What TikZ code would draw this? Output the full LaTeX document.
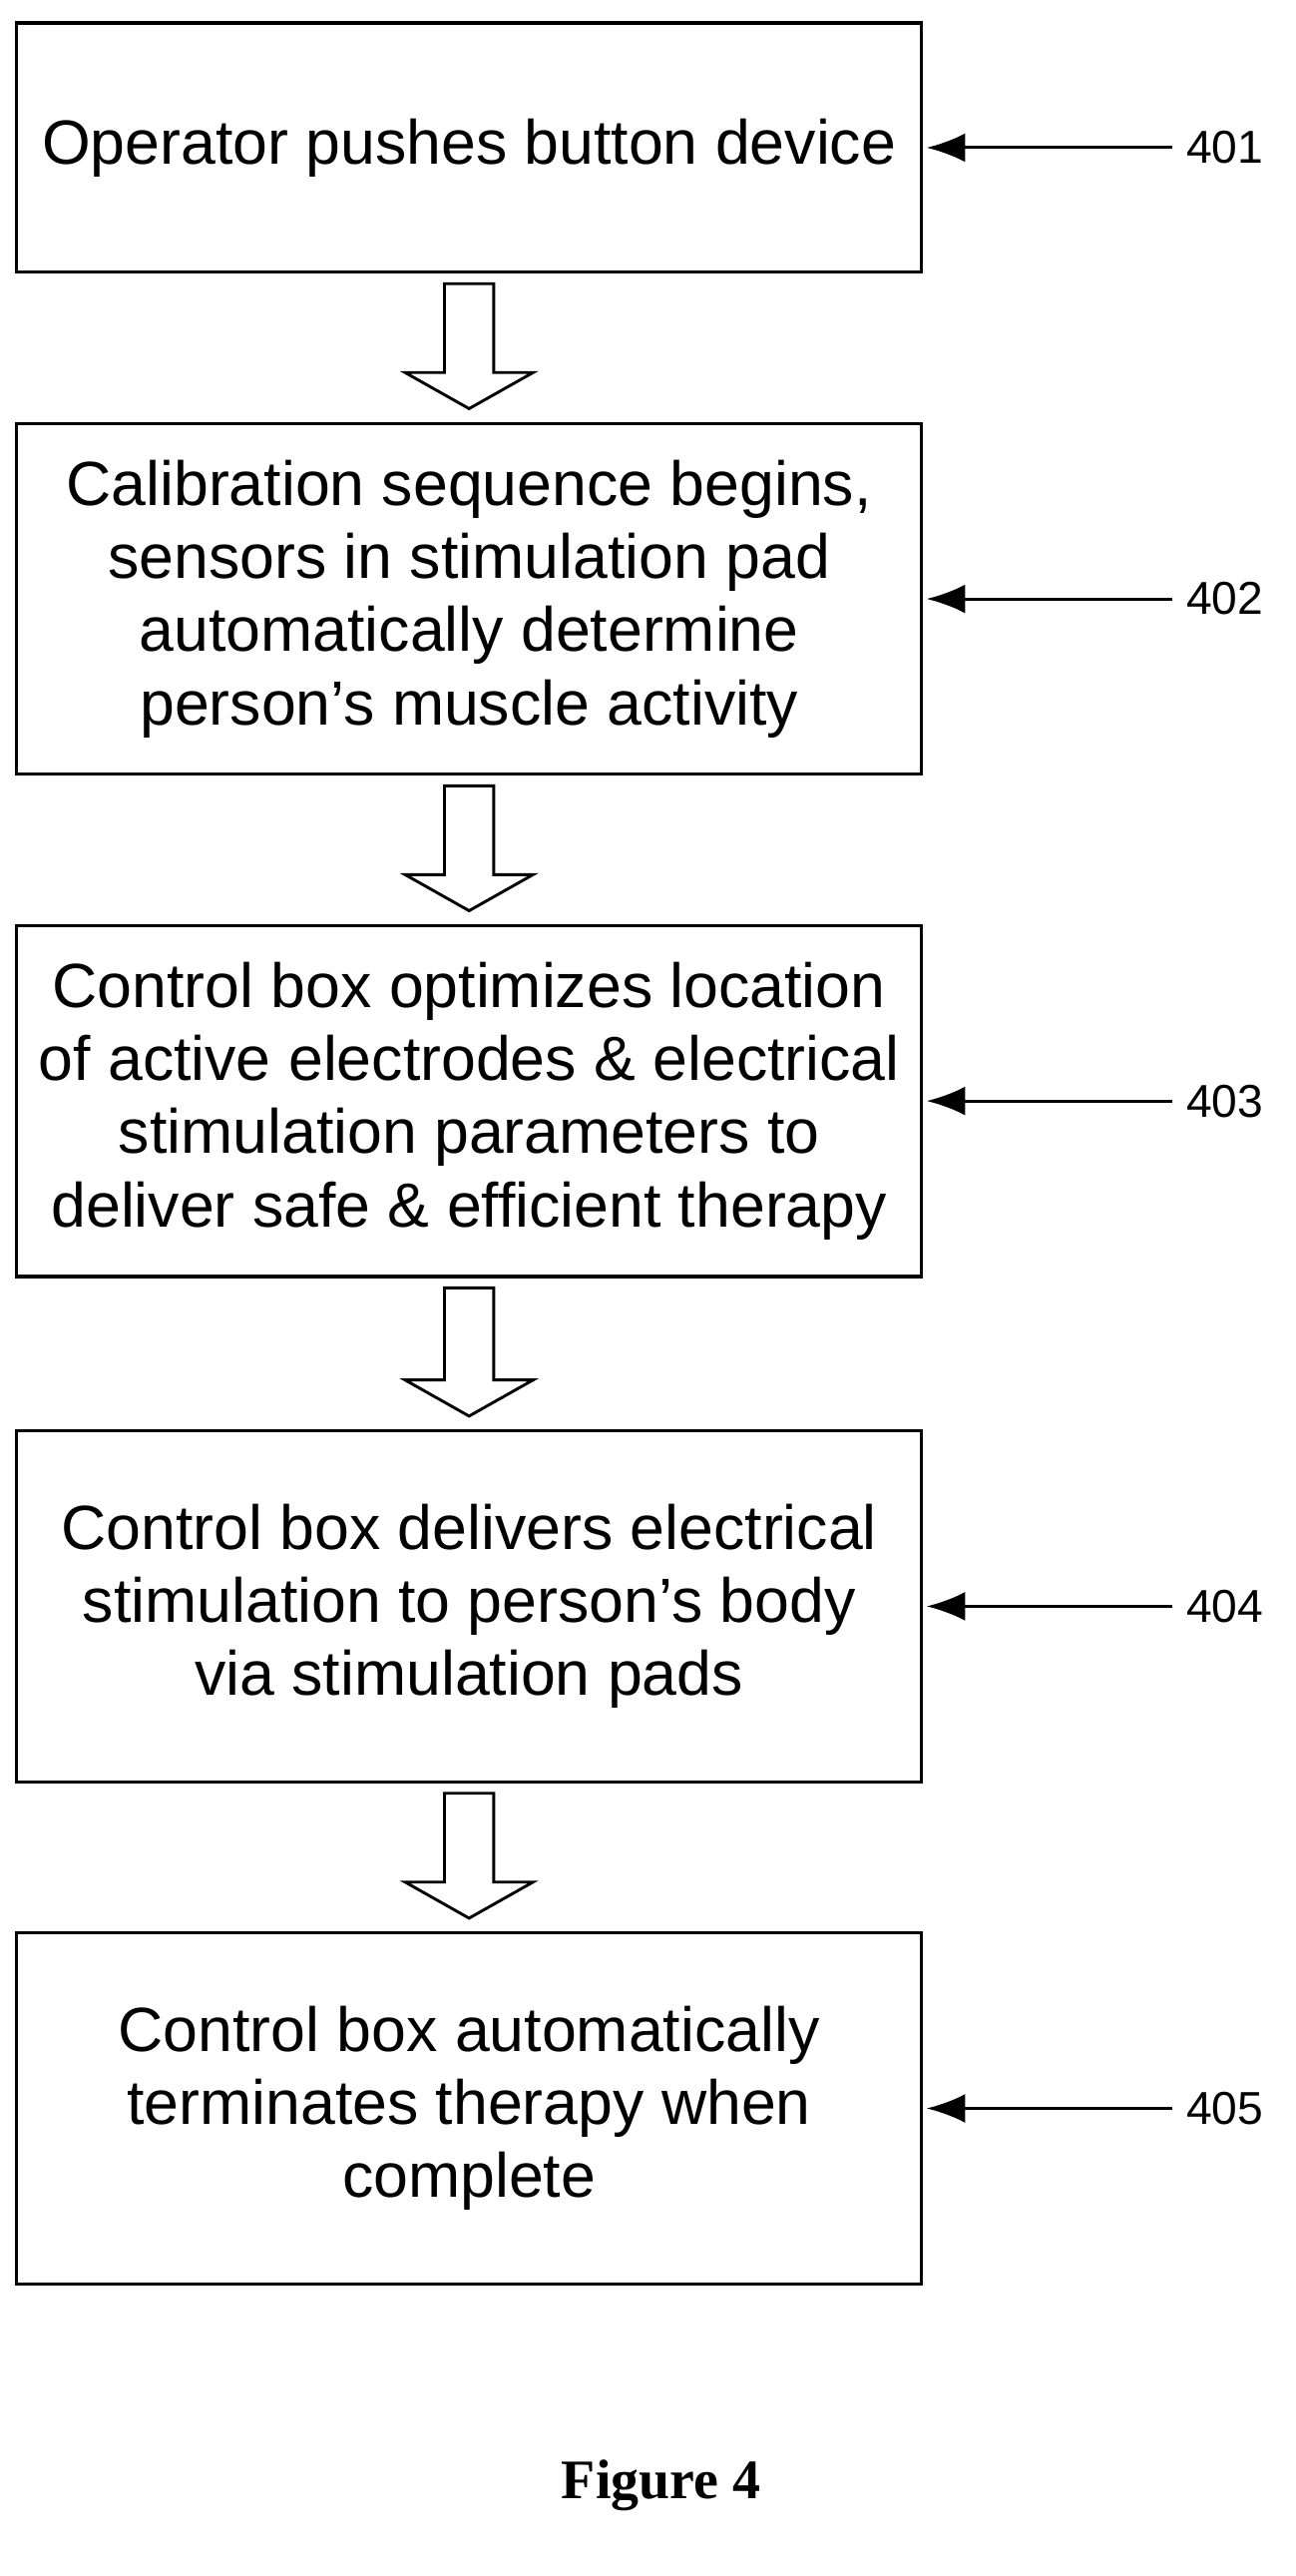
\documentclass[tikz,border=0pt]{standalone}
\usepackage{fontspec}
\setmainfont{Liberation Sans}
\newfontfamily\capfont{Liberation Serif}
\usetikzlibrary{calc,arrows.meta}
\begin{document}
\begin{tikzpicture}[x=0.03cm,y=-0.03cm,>=latex,thick,
    step box/.style={draw,line width=1.6pt,minimum width=552*0.03cm,align=center,
      font=\fontsize{32.5}{38}\selectfont},
    ref label/.style={font=\fontsize{24}{28}\selectfont,anchor=west}]
  \useasboundingbox (0,0) rectangle (790,1570);
  \node[step box,minimum height=152*0.03cm] (1) at (286,90) {Operator pushes button device};
  \node[step box,minimum height=214*0.03cm] (2) at (286,365) {Calibration sequence begins,\\sensors in stimulation pad\\automatically determine\\person’s muscle activity};
  \node[step box,minimum height=214*0.03cm] (3) at (286,671) {Control box optimizes location\\of active electrodes \& electrical\\stimulation parameters to\\deliver safe \& efficient therapy};
  \node[step box,minimum height=214*0.03cm] (4) at (286,979) {Control box delivers electrical\\stimulation to person’s body\\via stimulation pads};
  \node[step box,minimum height=214*0.03cm] (5) at (286,1285) {Control box automatically\\terminates therapy when\\complete};
  \foreach \i in {1,...,5} {
    \node[ref label] (l\i) at ($(\i.east)+(156,0)$) {40\i};
    \draw[-{Latex[length=20pt,width=15pt]},line width=1.6pt] ($(l\i.west)+(-4,0)$) -- ($(\i.east)+(2,0)$);
  }
  \foreach \a/\b in {1/2,2/3,3/4,4/5} {
    \draw[line width=1.5pt] ($(\a.south)+(-15,6)$) -- ($(\a.south)+(15,6)$)
      -- ($(\b.north)+(15,-30)$) -- ($(\b.north)+(39,-30)$) -- ($(\b.north)+(0,-8)$)
      -- ($(\b.north)+(-39,-30)$) -- ($(\b.north)+(-15,-30)$) -- cycle;
  }
  \node[font=\capfont\bfseries\fontsize{29}{34}\selectfont] (cap) at (403,1515) {Figure 4};
\end{tikzpicture}
\end{document}
